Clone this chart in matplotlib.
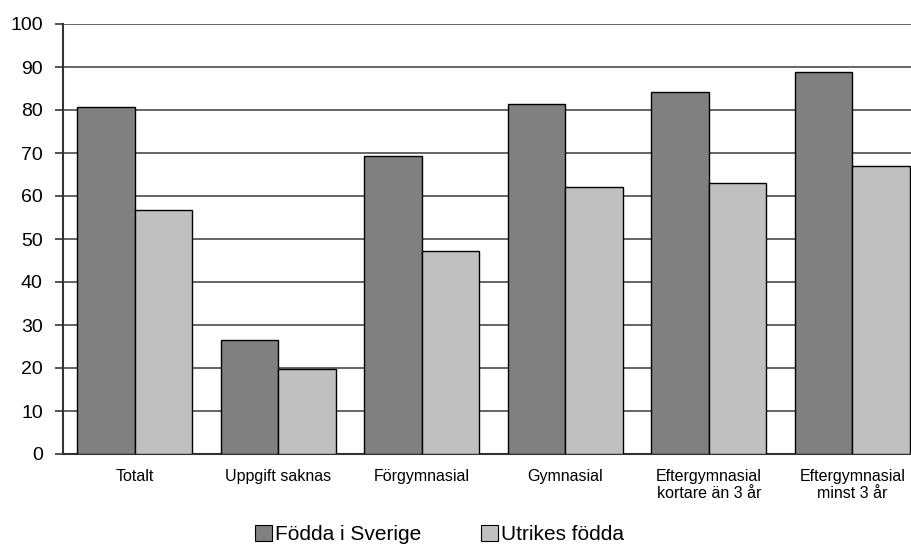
import numpy as np
import matplotlib.pyplot as plt
from matplotlib.patches import Patch

categories = ['Totalt', 'Uppgift saknas', 'Förgymnasial', 'Gymnasial',
              'Eftergymnasial\nkortare än 3 år', 'Eftergymnasial\nminst 3 år']
fodda_sverige = [80.6, 26.5, 69.4, 81.5, 84.3, 88.9]
utrikes_fodda = [56.7, 19.7, 47.2, 62.0, 63.1, 67.0]
series_names = ['Födda i Sverige', 'Utrikes födda']
yticks = list(range(0, 101, 10))

plt.rcParams['font.family'] = ['Liberation Sans', 'DejaVu Sans']

fig = plt.figure(figsize=(9.12, 5.45), dpi=100)
ax = fig.add_axes([63 / 912, 91 / 545, 861 / 912, 430 / 545])

x = np.arange(len(categories))
bar_w = 0.4
ax.bar(x + 0.1, fodda_sverige, width=bar_w, align='edge', color='#808080',
       edgecolor='black', linewidth=1.0, zorder=3)
ax.bar(x + 0.5, utrikes_fodda, width=bar_w, align='edge', color='#c0c0c0',
       edgecolor='black', linewidth=1.0, zorder=3)

ax.set_xlim(0, len(categories))
ax.set_ylim(0, 100)
ax.set_yticks(yticks)
ax.set_xticks(x + 0.5)
ax.set_xticklabels(categories, fontsize=11.5, linespacing=1.15)
ax.tick_params(axis='x', length=0, pad=11)
ax.tick_params(axis='y', length=6, width=1.2, color='#333333', labelsize=14, pad=8.5)

ax.grid(axis='y', color='#585858', linewidth=1.3, zorder=0)
ax.set_axisbelow(True)
for s in ['top', 'right']:
    ax.spines[s].set_visible(False)
for s in ['left', 'bottom']:
    ax.spines[s].set_color('#333333')
    ax.spines[s].set_linewidth(1.5)

handles = [Patch(facecolor='#808080', edgecolor='black', linewidth=0.8),
           Patch(facecolor='#c0c0c0', edgecolor='black', linewidth=0.8)]
fig.legend(handles, series_names, loc='lower center', bbox_to_anchor=(0.482, -0.033),
           ncol=2, frameon=False, fontsize=15, handlelength=0.8, handleheight=0.8,
           handletextpad=0.15, columnspacing=2.85)

fig.savefig('out.png', dpi=100)
